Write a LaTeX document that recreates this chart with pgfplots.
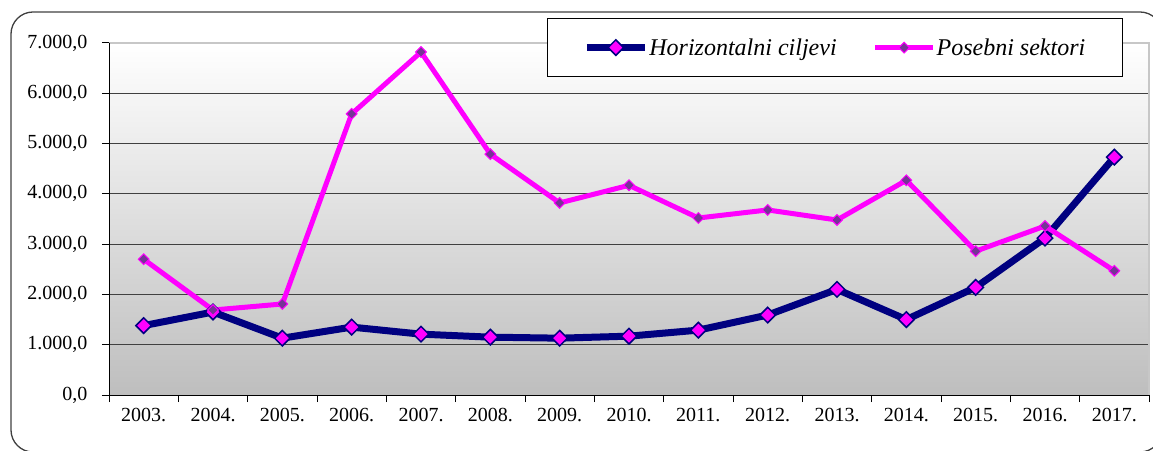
\documentclass[border=0pt]{standalone}
\usepackage{fontspec}
\setmainfont{Liberation Serif}
\usepackage{pgfplots}
\pgfplotsset{compat=1.18}
\definecolor{navyline}{RGB}{0,0,128}
\definecolor{magline}{RGB}{255,0,255}
\definecolor{purpmark}{RGB}{118,52,150}
\definecolor{bgbottom}{RGB}{190,190,190}

\begin{document}
\begin{tikzpicture}[x=1pt,y=1pt]
\useasboundingbox (0,0) rectangle (1153,450);
\begin{scope}
  \clip (0,0) rectangle (1153,450);
  \draw[line width=1.3pt, black!75, rounded corners=22pt] (11,-2) rectangle (1162,438);
\end{scope}
\begin{axis}[
  at={(109pt,55pt)}, anchor=south west, scale only axis,
  width=1040pt, height=352pt,
  xmin=-0.5, xmax=14.5, ymin=0, ymax=7000,
  xtick={-0.5,0.5,...,14.5},
  xticklabels={{},{},{},{},{},{},{},{},{},{},{},{},{},{},{},{}},
  extra x ticks={0,1,...,14},
  extra x tick labels={2003.,2004.,2005.,2006.,2007.,2008.,2009.,2010.,2011.,2012.,2013.,2014.,2015.,2016.,2017.},
  extra x tick style={major tick length=0pt},
  ytick={0,1000,...,7000},
  scaled y ticks=false,
  ymajorgrids,
  major grid style={black!75, line width=1pt},
  tick align=outside, tick pos=left, major tick length=7pt,
  tick style={black, line width=1pt},
  axis line style={draw=none},
  axis background/.style={top color=white, bottom color=bgbottom},
  tick label style={font=\fontsize{20}{24}\selectfont},
  xticklabel style={yshift=-10pt},
  yticklabel style={xshift=-11pt, /pgf/number format/.cd, fixed, fixed zerofill, precision=1,
    1000 sep={.}, dec sep={,}, assume math mode=true},
  clip=false,
  legend style={at={(0.421,1.071)}, anchor=north west, draw=black, line width=1pt,
    fill=white, font=\fontsize{24}{28}\selectfont\itshape,
    inner xsep=36pt, inner ysep=18pt,
    nodes={inner xsep=1pt},
    /tikz/every even column/.append style={column sep=35pt}},
  legend columns=2,
  legend image code/.code={
    \draw[mark repeat=2,mark phase=2,#1] plot coordinates {(0pt,0pt)(29pt,0pt)(58pt,0pt)};
  },
]
\draw[line width=1.5pt, black!22] (rel axis cs:0,1) -- (rel axis cs:1,1) -- (rel axis cs:1,0);
\draw[line width=1pt, black] (rel axis cs:0,1) -- (rel axis cs:0,0) -- (rel axis cs:1,0);

\addplot[navyline, line width=7pt, mark=square*, mark size=5.5pt,
  mark options={rotate=45, fill=magline, draw=navyline, line width=1.5pt}]
  coordinates {
  (0,1380) (1,1650) (2,1130) (3,1350) (4,1210) (5,1150) (6,1130) (7,1170)
  (8,1290) (9,1590) (10,2100) (11,1500) (12,2140) (13,3120) (14,4730)
};
\addlegendentry{Horizontalni ciljevi}

\addplot[magline, line width=5pt, mark=square*, mark size=3.8pt,
  mark options={rotate=45, fill=purpmark, draw=magline, line width=1pt}]
  coordinates {
  (0,2700) (1,1690) (2,1810) (3,5590) (4,6820) (5,4790) (6,3820) (7,4170)
  (8,3520) (9,3680) (10,3480) (11,4270) (12,2860) (13,3360) (14,2470)
};
\addlegendentry{Posebni sektori}
\end{axis}
\end{tikzpicture}
\end{document}
